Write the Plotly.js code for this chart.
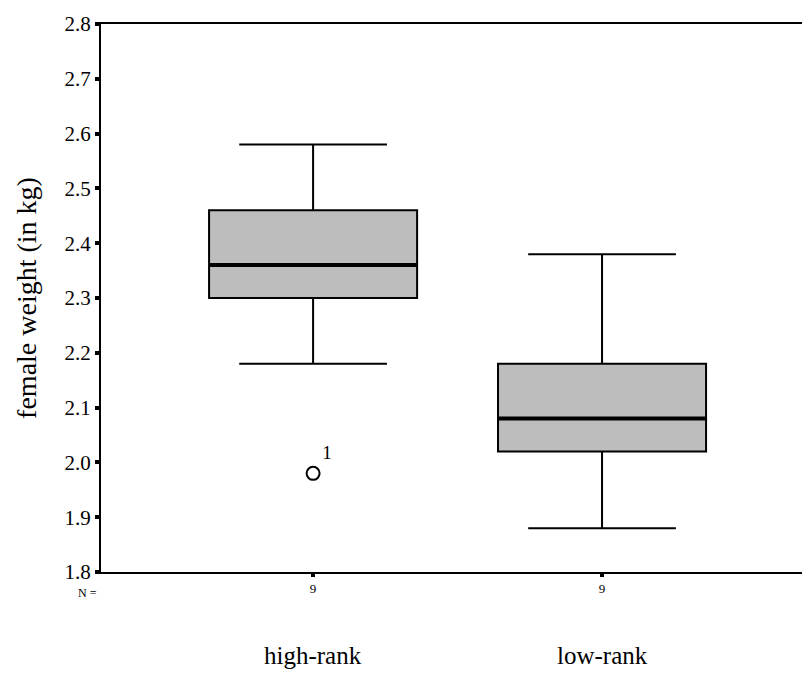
<!DOCTYPE html>
<html>
<head>
<meta charset="utf-8">
<script src="https://cdn.plot.ly/plotly-3.0.1.min.js"></script>
<style>html,body{margin:0;padding:0;background:#fff;}#chart{width:802px;height:674px;}</style>
</head>
<body>
<div id="chart"></div>
<script>
// Data
const groups = ["high-rank", "low-rank"];
const groupPos = [0, 1];
const nLabels = ["9", "9"];
const lowerFence = [2.18, 1.88];
const q1 = [2.30, 2.02];
const median = [2.36, 2.08];
const q3 = [2.46, 2.18];
const upperFence = [2.58, 2.38];
const outlierGroup = [0];
const outlierY = [1.98];
const outlierLabel = ["1"];
const yTicks = [1.8, 1.9, 2.0, 2.1, 2.2, 2.3, 2.4, 2.5, 2.6, 2.7, 2.8];

const boxWidth = 0.72;
const serif = "Liberation Serif";

const traces = groups.map((g, i) => ({
  type: "box",
  name: g,
  x: [groupPos[i]],
  q1: [q1[i]], median: [median[i]], q3: [q3[i]],
  lowerfence: [lowerFence[i]], upperfence: [upperFence[i]],
  width: boxWidth,
  whiskerwidth: 0.71,
  fillcolor: "#bdbdbd",
  line: {color: "#000", width: 2},
  boxpoints: false,
  hoverinfo: "skip"
}));

// thick median lines
groups.forEach((g, i) => {
  traces.push({
    type: "scatter", mode: "lines",
    x: [groupPos[i] - boxWidth / 2, groupPos[i] + boxWidth / 2],
    y: [median[i], median[i]],
    line: {color: "#000", width: 4},
    hoverinfo: "skip", showlegend: false
  });
});

traces.push({
  type: "scatter", mode: "markers+text",
  x: outlierGroup.map(i => groupPos[i]),
  y: outlierY,
  text: outlierLabel,
  textposition: "top right",
  textfont: {family: serif, size: 19, color: "#000"},
  marker: {symbol: "circle-open", size: 13, color: "#000", line: {width: 2, color: "#000"}},
  hoverinfo: "skip", showlegend: false
});

const annotations = groups.map((g, i) => ({
  x: groupPos[i], xref: "x", y: -0.152, yref: "paper",
  text: g, showarrow: false, xanchor: "center", yanchor: "middle",
  font: {family: serif, size: 25, color: "#000"}
}));
annotations.push({
  x: -0.003, xref: "paper", y: -0.021, yref: "paper",
  text: "N =", showarrow: false, xanchor: "right", yanchor: "top",
  font: {family: serif, size: 12, color: "#000"}
});

const layout = {
  width: 802, height: 674,
  margin: {l: 101, r: 0, t: 24, b: 102},
  paper_bgcolor: "#fff", plot_bgcolor: "#fff",
  font: {family: serif, color: "#000"},
  showlegend: false,
  xaxis: {
    range: [-0.734, 1.692],
    tickvals: groupPos, ticktext: nLabels,
    ticks: "outside", ticklen: 3, tickwidth: 4, tickcolor: "#000",
    tickfont: {family: serif, size: 13, color: "#000"},
    showline: true, linecolor: "#000", linewidth: 2, mirror: true,
    showgrid: false, zeroline: false, fixedrange: true
  },
  yaxis: {
    range: [1.8, 2.8],
    tickvals: yTicks, tickformat: ".1f",
    ticks: "outside", ticklen: 4, tickwidth: 4, tickcolor: "#000",
    tickfont: {family: serif, size: 21, color: "#000"},
    showline: true, linecolor: "#000", linewidth: 2,
    showgrid: false, zeroline: false,
    title: {text: "female weight (in kg)", font: {family: serif, size: 28, color: "#000"}, standoff: 20}
  },
  annotations: annotations
};

Plotly.newPlot("chart", traces, layout, {displayModeBar: false, staticPlot: true});
</script>
</body>
</html>
